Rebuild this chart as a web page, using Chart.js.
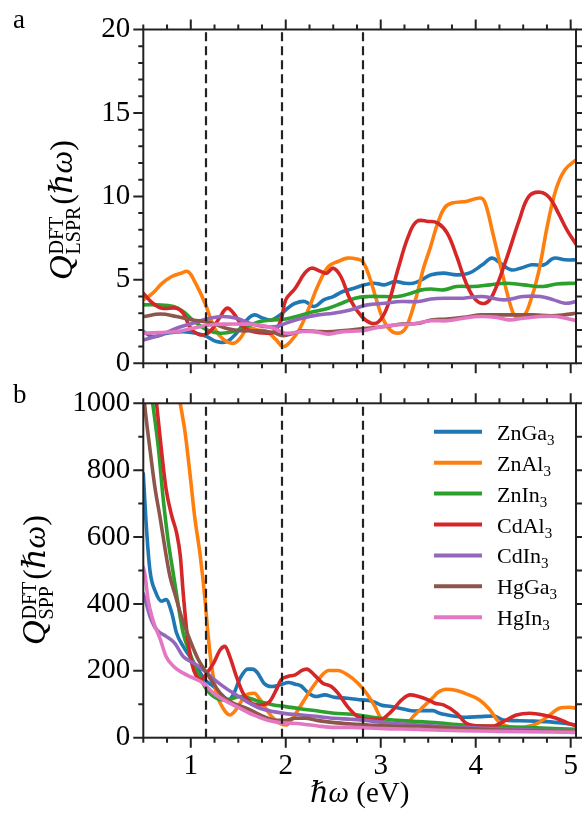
<!DOCTYPE html>
<html><head><meta charset="utf-8">
<script src="https://cdn.jsdelivr.net/npm/chart.js@4.4.1/dist/chart.umd.min.js"></script>
<style>
html,body{margin:0;padding:0;background:#fff;}
#wrap{position:relative;width:582px;height:813px;overflow:hidden;}
.pane{position:absolute;left:0;width:582px;}
</style></head><body>
<div id="wrap">
<div class="pane" style="top:0;height:383px"><canvas id="c1" width="582" height="383"></canvas></div>
<div class="pane" style="top:383px;height:430px"><canvas id="c2" width="582" height="430"></canvas></div>
</div>
<script>
// ---------- data ----------
const seriesNames = ['ZnGa3','ZnAl3','ZnIn3','CdAl3','CdIn3','HgGa3','HgIn3'];
const xTickValues = [1,2,3,4,5];
const lsprYTicks = [0,5,10,15,20];
const sppYTicks = [0,200,400,600,800,1000];
const xRange = [0.5, 5.056];
const dashedLines = [1.16, 1.96, 2.81];

// panel a: Q_LSPR
const lspr_ZnGa3 = [[0.5,1.9],[0.6,1.6],[0.75,1.8],[0.92,1.9],[1.06,1.8],[1.17,1.6],[1.27,1.3],[1.38,1.3],[1.48,1.8],[1.59,2.6],[1.67,2.9],[1.76,2.7],[1.85,2.6],[1.94,2.9],[2.02,3.3],[2.1,3.6],[2.2,3.7],[2.3,3.4],[2.4,3.8],[2.5,4.0],[2.6,4.3],[2.72,4.5],[2.83,4.7],[2.93,4.8],[3.04,4.7],[3.15,4.9],[3.25,4.8],[3.34,4.8],[3.43,5.0],[3.53,5.3],[3.66,5.4],[3.8,5.3],[3.93,5.4],[4.07,5.9],[4.17,6.3],[4.26,6.0],[4.37,5.6],[4.47,5.7],[4.59,5.9],[4.72,5.9],[4.82,6.3],[4.94,6.2],[5.06,6.2]];
const lspr_ZnAl3 = [[0.5,3.8],[0.6,4.2],[0.7,4.8],[0.8,5.2],[0.9,5.4],[0.97,5.5],[1.05,4.8],[1.15,3.6],[1.25,2.1],[1.35,1.4],[1.45,1.2],[1.52,1.5],[1.6,2.1],[1.7,2.0],[1.8,1.9],[1.9,1.4],[1.97,1.0],[2.05,1.3],[2.15,2.1],[2.25,3.4],[2.35,4.8],[2.45,5.8],[2.55,6.1],[2.65,6.3],[2.75,6.25],[2.81,6.1],[2.88,5.2],[2.95,3.9],[3.02,2.7],[3.1,2.0],[3.18,1.8],[3.25,2.0],[3.3,2.6],[3.38,4.1],[3.45,5.7],[3.52,6.9],[3.6,8.4],[3.67,9.3],[3.75,9.6],[3.9,9.7],[4.05,9.9],[4.1,9.6],[4.18,7.8],[4.28,5.4],[4.37,3.4],[4.42,2.8],[4.5,2.8],[4.57,3.6],[4.66,5.4],[4.76,8.4],[4.85,10.5],[4.94,11.6],[5.06,12.2]];
const lspr_ZnIn3 = [[0.5,3.5],[0.64,3.5],[0.82,3.4],[0.92,3.1],[1.02,2.6],[1.17,2.0],[1.31,1.8],[1.45,1.9],[1.59,2.2],[1.73,2.5],[1.87,2.6],[2.0,2.65],[2.17,2.9],[2.3,3.1],[2.45,3.3],[2.59,3.6],[2.73,3.9],[2.87,4.0],[3.04,4.0],[3.18,4.0],[3.32,4.2],[3.43,4.4],[3.53,4.45],[3.66,4.4],[3.8,4.6],[3.97,4.6],[4.15,4.7],[4.32,4.8],[4.5,4.7],[4.71,4.6],[4.85,4.75],[5.06,4.8]];
const lspr_CdAl3 = [[0.5,4.2],[0.6,3.6],[0.7,3.3],[0.85,3.3],[0.92,3.0],[1.0,2.1],[1.1,1.7],[1.2,1.9],[1.3,2.7],[1.38,3.3],[1.45,3.0],[1.55,2.2],[1.65,1.9],[1.8,1.8],[1.88,1.9],[1.95,2.6],[2.0,3.8],[2.1,4.5],[2.2,5.4],[2.27,5.7],[2.37,5.5],[2.43,5.4],[2.5,5.7],[2.58,5.2],[2.68,3.8],[2.8,2.8],[2.9,2.4],[2.98,2.5],[3.07,3.4],[3.18,5.6],[3.29,7.6],[3.38,8.5],[3.5,8.5],[3.6,8.4],[3.7,7.8],[3.8,6.4],[3.9,4.8],[4.0,3.8],[4.1,3.6],[4.18,4.1],[4.32,6.2],[4.46,8.6],[4.56,10.0],[4.68,10.25],[4.78,9.9],[4.87,9.0],[4.96,8.0],[5.06,7.1]];
const lspr_CdIn3 = [[0.5,1.4],[0.68,1.7],[0.85,2.1],[1.02,2.4],[1.2,2.7],[1.34,2.8],[1.48,2.7],[1.62,2.4],[1.76,2.2],[1.9,2.2],[2.0,2.4],[2.17,2.7],[2.34,2.9],[2.5,3.0],[2.68,3.2],[2.86,3.5],[3.04,3.6],[3.22,3.7],[3.4,3.7],[3.53,3.85],[3.7,3.9],[3.87,3.9],[4.07,4.0],[4.3,3.8],[4.5,4.0],[4.68,4.0],[4.82,3.8],[4.94,3.6],[5.06,3.7]];
const lspr_HgGa3 = [[0.5,2.8],[0.68,2.95],[0.85,2.8],[1.02,2.6],[1.2,2.45],[1.37,2.1],[1.52,1.95],[1.7,1.95],[1.87,1.85],[1.97,1.65],[2.08,1.8],[2.17,1.95],[2.34,1.9],[2.5,1.9],[2.68,2.0],[2.86,2.1],[3.04,2.2],[3.22,2.35],[3.4,2.4],[3.53,2.6],[3.7,2.65],[3.87,2.75],[4.05,2.9],[4.22,2.9],[4.43,2.9],[4.61,2.9],[4.79,2.85],[4.93,2.9],[5.06,3.0]];
const lspr_HgIn3 = [[0.5,1.8],[0.68,1.85],[0.85,1.9],[1.02,2.1],[1.2,2.3],[1.37,2.35],[1.55,2.35],[1.72,2.3],[1.87,2.1],[2.0,1.8],[2.17,1.9],[2.3,1.9],[2.45,1.75],[2.6,1.9],[2.8,1.95],[2.97,2.15],[3.15,2.3],[3.32,2.35],[3.53,2.55],[3.7,2.55],[3.87,2.7],[4.05,2.8],[4.22,2.75],[4.36,2.6],[4.5,2.7],[4.68,2.8],[4.85,2.8],[5.06,2.55]];

// panel b: Q_SPP
const spp_ZnGa3 = [[0.5,790],[0.53,640],[0.57,500],[0.63,435],[0.69,408],[0.74,413],[0.8,373],[0.85,313],[0.92,273],[0.99,243],[1.08,203],[1.15,173],[1.24,153],[1.31,133],[1.4,113],[1.45,130],[1.52,178],[1.6,205],[1.65,205],[1.7,195],[1.77,163],[1.85,153],[1.94,158],[2.03,165],[2.1,160],[2.16,155],[2.24,133],[2.32,123],[2.41,128],[2.51,121],[2.65,118],[2.8,113],[2.9,110],[3.0,98],[3.11,93],[3.25,85],[3.35,80],[3.47,81],[3.55,81],[3.62,73],[3.76,65],[3.9,61],[4.04,63],[4.19,65],[4.29,53],[4.43,51],[4.57,50],[4.75,48],[4.93,43],[5.06,38]];
const spp_ZnAl3 = [[0.5,1700],[0.65,1400],[0.8,1150],[0.89,998],[0.94,913],[0.99,793],[1.04,663],[1.1,543],[1.15,413],[1.18,313],[1.22,213],[1.27,133],[1.34,88],[1.41,68],[1.46,78],[1.53,108],[1.6,130],[1.67,133],[1.72,118],[1.8,83],[1.87,58],[1.94,43],[2.01,38],[2.06,53],[2.13,83],[2.24,133],[2.34,173],[2.45,201],[2.55,201],[2.65,188],[2.76,163],[2.85,133],[2.94,93],[3.0,58],[3.07,38],[3.17,38],[3.28,43],[3.34,63],[3.45,93],[3.55,120],[3.6,135],[3.69,145],[3.8,141],[3.9,131],[4.04,113],[4.15,83],[4.24,48],[4.32,35],[4.45,31],[4.57,35],[4.65,43],[4.78,68],[4.88,88],[4.99,91],[5.06,88]];
const spp_ZnIn3 = [[0.5,1220],[0.6,998],[0.66,863],[0.71,713],[0.76,593],[0.82,483],[0.87,393],[0.92,313],[0.99,253],[1.06,203],[1.11,173],[1.17,143],[1.24,123],[1.33,113],[1.41,115],[1.52,123],[1.62,118],[1.72,108],[1.87,98],[2.0,93],[2.17,86],[2.34,80],[2.51,73],[2.69,70],[2.87,63],[3.04,56],[3.22,51],[3.4,48],[3.57,45],[3.87,38],[4.22,33],[4.57,30],[5.06,25]];
const spp_CdAl3 = [[0.5,1400],[0.55,1250],[0.64,998],[0.69,863],[0.74,743],[0.8,663],[0.85,613],[0.89,543],[0.92,433],[0.96,313],[1.01,223],[1.06,183],[1.11,173],[1.17,193],[1.24,223],[1.31,263],[1.36,273],[1.41,243],[1.48,183],[1.55,133],[1.64,103],[1.72,98],[1.83,108],[1.9,143],[1.95,173],[2.02,183],[2.1,188],[2.17,201],[2.22,205],[2.3,188],[2.39,163],[2.48,153],[2.55,133],[2.65,93],[2.76,63],[2.87,55],[3.0,55],[3.11,78],[3.22,113],[3.31,128],[3.4,123],[3.5,113],[3.57,103],[3.66,98],[3.8,73],[3.9,43],[4.04,35],[4.19,35],[4.29,48],[4.43,68],[4.57,73],[4.71,68],[4.85,58],[4.96,45],[5.06,35]];
const spp_CdIn3 = [[0.5,430],[0.52,413],[0.57,363],[0.64,323],[0.74,303],[0.83,283],[0.92,243],[1.03,223],[1.13,203],[1.21,183],[1.32,158],[1.45,133],[1.59,108],[1.73,88],[1.87,78],[2.0,72],[2.17,68],[2.34,63],[2.51,58],[2.69,55],[2.87,51],[3.04,45],[3.22,41],[3.4,38],[3.57,35],[3.87,31],[4.22,27],[4.57,23],[5.06,21]];
const spp_HgGa3 = [[0.5,1040],[0.52,980],[0.57,863],[0.62,753],[0.68,653],[0.73,563],[0.78,483],[0.84,423],[0.9,363],[0.99,293],[1.08,233],[1.17,193],[1.26,153],[1.34,123],[1.45,103],[1.59,88],[1.73,68],[1.87,53],[2.0,52],[2.1,58],[2.2,58],[2.34,51],[2.51,45],[2.69,41],[2.87,38],[3.04,35],[3.22,33],[3.4,33],[3.57,31],[3.87,27],[4.22,23],[4.57,21],[5.06,18]];
const spp_HgIn3 = [[0.5,510],[0.52,483],[0.55,413],[0.6,353],[0.68,293],[0.74,243],[0.82,213],[0.92,193],[1.03,178],[1.13,163],[1.24,133],[1.38,108],[1.52,88],[1.66,68],[1.8,53],[1.94,45],[2.0,44],[2.17,41],[2.34,35],[2.51,31],[2.69,31],[2.87,29],[3.04,27],[3.4,25],[3.57,23],[4.22,19],[5.06,16]];

// ---------- styles ----------
const seriesColors = ['#1f77b4','#ff7f0e','#2ca02c','#d62728','#9467bd','#8c564b','#e377c2'];
const SERIF = "'Liberation Serif','DejaVu Serif','Times New Roman',serif";

function makeDatasets(list, smooth){
  return list.map((pts,i)=>Object.assign({
    label: seriesNames[i],
    data: pts.map(p=>({x:p[0], y:p[1]})),
    borderColor: seriesColors[i],
    backgroundColor: seriesColors[i],
    borderWidth: 3.6,
    pointRadius: 0,
    fill: false,
    order: 10 - i
  }, smooth === 'monotone' ? { cubicInterpolationMode: 'monotone' } : { tension: 0.4 }));
}

function drawRich(ctx, parts, x, y){
  let cx = x;
  parts.forEach(p=>{
    ctx.font = p[1];
    ctx.fillText(p[0], cx, y + (p[2]||0));
    cx += ctx.measureText(p[0]).width + (p[3]||0);
  });
  return cx - x;
}

function decoPlugin(o){
  return {
    id: 'deco',
    afterDatasetsDraw(chart){
      const ctx = chart.ctx, a = chart.chartArea, xs = chart.scales.x;
      ctx.save();
      ctx.beginPath(); ctx.rect(a.left, a.top, a.right-a.left, a.bottom-a.top); ctx.clip();
      ctx.strokeStyle = '#222'; ctx.lineWidth = 2.2; ctx.setLineDash([9,5]);
      dashedLines.forEach(v=>{
        const px = Math.round(xs.getPixelForValue(v));
        ctx.beginPath(); ctx.moveTo(px, a.bottom); ctx.lineTo(px, a.top); ctx.stroke();
      });
      ctx.restore();
    },
    afterDraw(chart){
      const ctx = chart.ctx, a = chart.chartArea, xs = chart.scales.x, ys = chart.scales.y;
      ctx.save();
      ctx.strokeStyle = '#222'; ctx.lineWidth = 2; ctx.setLineDash([]);
      ctx.strokeRect(a.left, a.top, a.right-a.left, a.bottom-a.top);
      const MAJ = 10, MIN = 5;
      for (let k = 0; ; k++){
        const v = xRange[0] + k*0.25;
        if (v > xRange[1] + 1e-9) break;
        const isMaj = Math.abs(v - Math.round(v)) < 1e-9;
        const L = isMaj ? MAJ : MIN;
        const px = xs.getPixelForValue(v);
        ctx.beginPath();
        ctx.moveTo(px, a.bottom); ctx.lineTo(px, a.bottom + L);
        ctx.moveTo(px, a.top); ctx.lineTo(px, a.top - L);
        ctx.stroke();
      }
      for (let v = o.yMin; v <= o.yMax + 1e-9; v += o.yMinor){
        const isMaj = o.yTicks.some(t=>Math.abs(t-v)<1e-9);
        const L = isMaj ? MAJ : MIN;
        const py = ys.getPixelForValue(v);
        ctx.beginPath();
        ctx.moveTo(a.left, py); ctx.lineTo(a.left - L, py);
        ctx.moveTo(a.right, py); ctx.lineTo(a.right + 6, py);
        ctx.stroke();
      }
      ctx.fillStyle = '#000';
      ctx.textAlign = 'left'; ctx.textBaseline = 'alphabetic';
      ctx.font = '27px ' + SERIF;
      ctx.fillText(o.letter, 13, o.letterY);
      ctx.save();
      ctx.translate(o.titleX, o.titleY);
      ctx.rotate(-Math.PI/2);
      ctx.font = 'italic 34px ' + SERIF;
      ctx.fillText('Q', 0, 0);
      const qw = ctx.measureText('Q').width + 1;
      ctx.font = '20px ' + SERIF;
      ctx.fillText('DFT', qw, -9);
      const w1 = ctx.measureText('DFT').width;
      ctx.fillText(o.sub, qw, 8);
      const w2 = ctx.measureText(o.sub).width;
      const sx = qw + Math.max(w1, w2) + 2;
      drawRich(ctx, [['(', '32px ' + SERIF], ['\u210F\u03C9', 'italic 32px ' + SERIF], [')', '32px ' + SERIF]], sx, 0);
      ctx.restore();
      if (o.legend){
        const x0 = a.right - 142, y0 = a.top + 28.5, dy = 30.9;
        seriesNames.forEach((n,i)=>{
          const yy = y0 + i*dy;
          ctx.strokeStyle = seriesColors[i]; ctx.lineWidth = 4;
          ctx.beginPath(); ctx.moveTo(x0, yy); ctx.lineTo(x0+48, yy); ctx.stroke();
          ctx.fillStyle = '#000';
          drawRich(ctx, [[n.slice(0,-1), '22px ' + SERIF], [n.slice(-1), '15px ' + SERIF, 5]], x0 + 63, yy + 8);
        });
      }
      if (o.xTitle){
        ctx.fillStyle = '#000';
        ctx.font = 'italic 29px ' + SERIF;
        const w1 = ctx.measureText('\u210F\u03C9').width;
        ctx.font = '29px ' + SERIF;
        const w2 = ctx.measureText(' (eV)').width;
        const cx = (a.left + a.right)/2 - (w1+w2)/2;
        drawRich(ctx, [['\u210F\u03C9', 'italic 29px ' + SERIF], [' (eV)', '29px ' + SERIF]], cx, o.xTitleY);
      }
      ctx.restore();
    }
  };
}

function makeChart(canvas, data, o){
  return new Chart(canvas, {
    type: 'line',
    data: { datasets: makeDatasets(data, o.smooth) },
    options: {
      responsive: false, animation: false, devicePixelRatio: 1,
      layout: { padding: { left: 0, right: 6, top: o.padTop, bottom: 0 } },
      plugins: { legend: { display: false }, tooltip: { enabled: false } },
      elements: { line: { borderJoinStyle: 'round', borderCapStyle: 'round' } },
      scales: {
        x: {
          type: 'linear', min: xRange[0], max: xRange[1],
          grid: { display: false, drawTicks: false }, border: { display: false },
          afterBuildTicks: s => { s.ticks = xTickValues.map(v=>({value:v})); },
          afterFit: s => { s.height = o.xHeight; s.paddingLeft = 0; s.paddingRight = 0; },
          ticks: { display: o.xLabels, padding: 11, color: '#000', font: { family: SERIF, size: 29 },
                   callback: v => String(v) }
        },
        y: {
          type: 'linear', min: o.yMin, max: o.yMax,
          grid: { display: false, drawTicks: false }, border: { display: false },
          afterBuildTicks: s => { s.ticks = o.yTicks.map(v=>({value:v})); },
          afterFit: s => { s.width = 143.3; s.paddingTop = 0; s.paddingBottom = 0; },
          ticks: { padding: 13, color: '#000', font: { family: SERIF, size: 29 }, callback: v => String(v) }
        }
      }
    },
    plugins: [decoPlugin(o)]
  });
}

makeChart(document.getElementById('c1'),
  [lspr_ZnGa3, lspr_ZnAl3, lspr_ZnIn3, lspr_CdAl3, lspr_CdIn3, lspr_HgGa3, lspr_HgIn3],
  { smooth: 'tension', padTop: 29.5, xHeight: 383 - 363.3, xLabels: false, yMin: 0, yMax: 20, yTicks: lsprYTicks, yMinor: 1,
    letter: 'a', letterY: 28, titleX: 72, titleY: 280, sub: 'LSPR', legend: false, xTitle: false });

makeChart(document.getElementById('c2'),
  [spp_ZnGa3, spp_ZnAl3, spp_ZnIn3, spp_CdAl3, spp_CdIn3, spp_HgGa3, spp_HgIn3],
  { smooth: 'monotone', padTop: 20.3, xHeight: 430 - 354.7, xLabels: true, yMin: 0, yMax: 1000, yTicks: sppYTicks, yMinor: 100,
    letter: 'b', letterY: 20, titleX: 45, titleY: 262, sub: 'SPP', legend: true, xTitle: true, xTitleY: 419 });
</script>
</body></html>
